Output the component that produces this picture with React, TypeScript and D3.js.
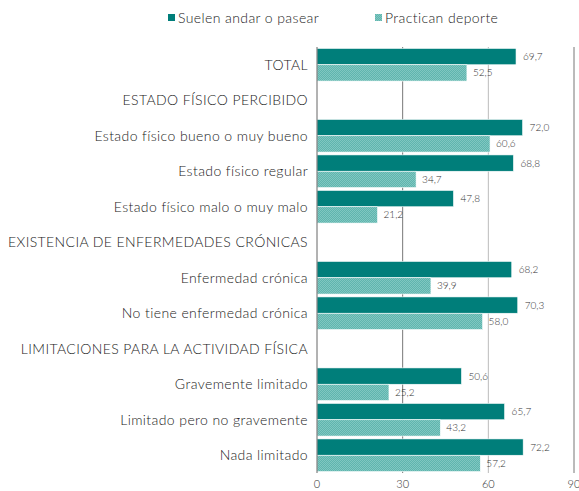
import React from "react";
import * as d3 from "d3";

const categories = [
  "TOTAL",
  "ESTADO FÍSICO PERCIBIDO",
  "Estado físico bueno o muy bueno",
  "Estado físico regular",
  "Estado físico malo o muy malo",
  "EXISTENCIA DE ENFERMEDADES CRÓNICAS",
  "Enfermedad crónica",
  "No tiene enfermedad crónica",
  "LIMITACIONES PARA LA ACTIVIDAD FÍSICA",
  "Gravemente limitado",
  "Limitado pero no gravemente",
  "Nada limitado",
];
const andar: (number | null)[] = [69.7, null, 72.0, 68.8, 47.8, null, 68.2, 70.3, null, 50.6, 65.7, 72.2];
const deporte: (number | null)[] = [52.5, null, 60.6, 34.7, 21.2, null, 39.9, 58.0, null, 25.2, 43.2, 57.2];
const seriesNames = ["Suelen andar o pasear", "Practican deporte"];
const ticks = [0, 30, 60, 90];

const W = 579;
const H = 491;
const left = 317;
const right = 574;
const top = 47;
const bottom = 473;
const DARK = "#007e7a";
const LIGHT = "#5fb5ae";
const FONT = "Lato, 'Open Sans', sans-serif";

export default function App() {
  const x = d3.scaleLinear().domain([0, 90]).range([left, right]);
  const y = d3.scaleBand<string>().domain(categories).range([top, bottom]).paddingInner(0.08).paddingOuter(0.04);
  const bw = y.bandwidth() / 2;
  const fmt = (v: number) => v.toFixed(1).replace(".", ",");

  return (
    <svg width={W} height={H} style={{ position: "absolute", left: 0, top: 0, background: "#fff" }}>
      <defs>
        <pattern id="chk" width="2" height="2" patternUnits="userSpaceOnUse">
          <rect width="2" height="2" fill={LIGHT} />
          <rect width="1" height="1" fill="#80c7c1" />
          <rect x="1" y="1" width="1" height="1" fill="#80c7c1" />
        </pattern>
      </defs>
      {/* legend */}
      <rect x={168} y={14} width={7} height={7} fill={DARK} />
      <text x={178} y={22.5} fontSize={14} fontWeight={300} letterSpacing={0.4} fontFamily={FONT} fill="#222">{seriesNames[0]}</text>
      <rect x={375} y={14} width={7} height={7} fill="url(#chk)" />
      <text x={385} y={22.5} fontSize={14} fontWeight={300} letterSpacing={0.4} fontFamily={FONT} fill="#222">{seriesNames[1]}</text>

      {/* grid */}
      {ticks.slice(1).map((t, i) => (
        <line key={t} x1={x(t)} x2={x(t)} y1={top} y2={bottom} stroke={i === 1 ? "#bbb" : "#777"} strokeWidth={1} />
      ))}

      {/* bars */}
      {categories.map((c, i) => {
        const y0 = y(c)!;
        const a = andar[i];
        const d = deporte[i];
        return (
          <g key={c}>
            {a != null && (
              <>
                <rect x={x(0)} y={y0} width={x(a) - x(0)} height={bw} fill={DARK} stroke="#fff" strokeWidth={0.6} />
                <text x={x(a) + 7} y={y0 + bw / 2 + 3.5} fontSize={10} fontWeight={300} fontFamily={FONT} fill="#333">{fmt(a)}</text>
              </>
            )}
            {d != null && (
              <>
                <rect x={x(0)} y={y0 + bw} width={x(d) - x(0)} height={bw} fill="url(#chk)" stroke="#fff" strokeWidth={0.6} />
                <text x={x(d) + 6} y={y0 + bw * 1.5 + 3.5} fontSize={10} fontWeight={300} fontFamily={FONT} fill="#333">{fmt(d)}</text>
              </>
            )}
            <text x={308} y={y0 + y.bandwidth() / 2 + 5} textAnchor="end" fontSize={14} fontWeight={300} letterSpacing={0.4} fontFamily={FONT} fill="#222">{c}</text>
          </g>
        );
      })}

      {/* axis */}
      <line x1={left} x2={left} y1={top} y2={bottom} stroke="#666" strokeWidth={1} />
      {ticks.map((t) => (
        <text key={t} x={x(t)} y={488} textAnchor="middle" fontSize={11} fontWeight={300} fontFamily={FONT} fill="#333">{t}</text>
      ))}
    </svg>
  );
}
